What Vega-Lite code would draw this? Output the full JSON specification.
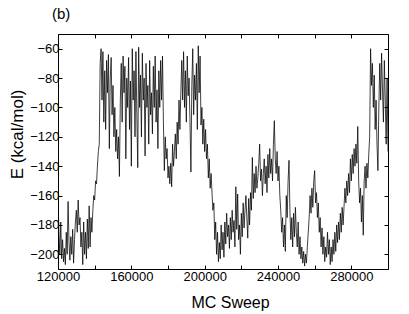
{
  "$schema": "https://vega.github.io/schema/vega-lite/v6.json",
  "width": 330,
  "height": 235,
  "autosize": "none",
  "padding": {"left": 58, "top": 34, "right": 21, "bottom": 45},
  "background": "white",
  "title": {"text": "(b)", "anchor": "start", "frame": "group", "font": "Liberation Sans", "fontSize": 15, "fontWeight": "normal", "color": "black", "dx": -6, "offset": 12},
  "config": {"view": {"stroke": null}, "axis": {"grid": false, "domainColor": "black", "tickColor": "black", "labelColor": "black", "titleColor": "black", "labelFont": "Liberation Sans", "titleFont": "Liberation Sans", "labelFontSize": 13, "titleFontSize": 16, "titleFontWeight": "normal", "tickSize": -4, "domainWidth": 1, "tickWidth": 1}},
  "data": {"values": [
    {"s":120000,"e":-160},{"s":120500,"e":-185},{"s":121000,"e":-200},{"s":121500,"e":-178},{"s":122000,"e":-203},{"s":122500,"e":-190},{"s":123000,"e":-205},{"s":123500,"e":-196},{"s":124000,"e":-207},{"s":124500,"e":-185},
    {"s":125000,"e":-200},{"s":125500,"e":-164},{"s":126000,"e":-192},{"s":126500,"e":-204},{"s":127000,"e":-188},{"s":127500,"e":-200},{"s":128000,"e":-183},{"s":128500,"e":-206},{"s":129000,"e":-190},{"s":129500,"e":-178},
    {"s":130000,"e":-170},{"s":130500,"e":-185},{"s":131000,"e":-163},{"s":131500,"e":-180},{"s":132000,"e":-175},{"s":132500,"e":-195},{"s":133000,"e":-185},{"s":133500,"e":-207},{"s":134000,"e":-178},{"s":134500,"e":-200},
    {"s":135000,"e":-185},{"s":135500,"e":-203},{"s":136000,"e":-176},{"s":136500,"e":-196},{"s":137000,"e":-167},{"s":137500,"e":-195},{"s":138000,"e":-175},{"s":138500,"e":-185},{"s":139000,"e":-170},{"s":139500,"e":-160},
    {"s":140000,"e":-163},{"s":140500,"e":-150},{"s":141000,"e":-152},{"s":141500,"e":-140},{"s":142000,"e":-130},{"s":142500,"e":-125},{"s":143000,"e":-70},{"s":143500,"e":-60},{"s":144000,"e":-95},{"s":144500,"e":-62},
    {"s":145000,"e":-110},{"s":145500,"e":-75},{"s":146000,"e":-115},{"s":146500,"e":-68},{"s":147000,"e":-90},{"s":147500,"e":-64},{"s":148000,"e":-128},{"s":148500,"e":-80},{"s":149000,"e":-66},{"s":149500,"e":-105},
    {"s":150000,"e":-85},{"s":150500,"e":-120},{"s":151000,"e":-100},{"s":151500,"e":-130},{"s":152000,"e":-115},{"s":152500,"e":-135},{"s":153000,"e":-120},{"s":153500,"e":-147},{"s":154000,"e":-95},{"s":154500,"e":-70},
    {"s":155000,"e":-110},{"s":155500,"e":-65},{"s":156000,"e":-90},{"s":156500,"e":-72},{"s":157000,"e":-135},{"s":157500,"e":-80},{"s":158000,"e":-100},{"s":158500,"e":-66},{"s":159000,"e":-115},{"s":159500,"e":-82},
    {"s":160000,"e":-140},{"s":160500,"e":-60},{"s":161000,"e":-95},{"s":161500,"e":-75},{"s":162000,"e":-120},{"s":162500,"e":-62},{"s":163000,"e":-105},{"s":163500,"e":-141},{"s":164000,"e":-59},{"s":164500,"e":-100},
    {"s":165000,"e":-78},{"s":165500,"e":-120},{"s":166000,"e":-63},{"s":166500,"e":-95},{"s":167000,"e":-80},{"s":167500,"e":-133},{"s":168000,"e":-70},{"s":168500,"e":-100},{"s":169000,"e":-85},{"s":169500,"e":-125},
    {"s":170000,"e":-68},{"s":170500,"e":-105},{"s":171000,"e":-90},{"s":171500,"e":-118},{"s":172000,"e":-72},{"s":172500,"e":-100},{"s":173000,"e":-65},{"s":173500,"e":-110},{"s":174000,"e":-88},{"s":174500,"e":-128},
    {"s":175000,"e":-75},{"s":175500,"e":-100},{"s":176000,"e":-68},{"s":176500,"e":-95},{"s":177000,"e":-65},{"s":177500,"e":-110},{"s":178000,"e":-143},{"s":178500,"e":-120},{"s":179000,"e":-135},{"s":179500,"e":-128},
    {"s":180000,"e":-148},{"s":180500,"e":-140},{"s":181000,"e":-152},{"s":181500,"e":-138},{"s":182000,"e":-154},{"s":182500,"e":-125},{"s":183000,"e":-140},{"s":183500,"e":-130},{"s":184000,"e":-118},{"s":184500,"e":-135},
    {"s":185000,"e":-110},{"s":185500,"e":-125},{"s":186000,"e":-95},{"s":186500,"e":-115},{"s":187000,"e":-90},{"s":187500,"e":-68},{"s":188000,"e":-95},{"s":188500,"e":-62},{"s":189000,"e":-100},{"s":189500,"e":-75},
    {"s":190000,"e":-110},{"s":190500,"e":-65},{"s":191000,"e":-92},{"s":191500,"e":-80},{"s":192000,"e":-110},{"s":192500,"e":-144},{"s":193000,"e":-85},{"s":193500,"e":-60},{"s":194000,"e":-105},{"s":194500,"e":-78},
    {"s":195000,"e":-95},{"s":195500,"e":-70},{"s":196000,"e":-115},{"s":196500,"e":-58},{"s":197000,"e":-90},{"s":197500,"e":-65},{"s":198000,"e":-112},{"s":198500,"e":-100},{"s":199000,"e":-125},{"s":199500,"e":-108},
    {"s":200000,"e":-130},{"s":200500,"e":-115},{"s":201000,"e":-135},{"s":201500,"e":-125},{"s":202000,"e":-148},{"s":202500,"e":-135},{"s":203000,"e":-155},{"s":203500,"e":-145},{"s":204000,"e":-158},{"s":204500,"e":-170},
    {"s":205000,"e":-165},{"s":205500,"e":-190},{"s":206000,"e":-178},{"s":206500,"e":-200},{"s":207000,"e":-185},{"s":207500,"e":-205},{"s":208000,"e":-192},{"s":208500,"e":-203},{"s":209000,"e":-180},{"s":209500,"e":-197},
    {"s":210000,"e":-185},{"s":210500,"e":-202},{"s":211000,"e":-178},{"s":211500,"e":-193},{"s":212000,"e":-172},{"s":212500,"e":-188},{"s":213000,"e":-180},{"s":213500,"e":-196},{"s":214000,"e":-175},{"s":214500,"e":-190},
    {"s":215000,"e":-170},{"s":215500,"e":-185},{"s":216000,"e":-177},{"s":216500,"e":-195},{"s":217000,"e":-154},{"s":217500,"e":-183},{"s":218000,"e":-159},{"s":218500,"e":-190},{"s":219000,"e":-180},{"s":219500,"e":-200},
    {"s":220000,"e":-172},{"s":220500,"e":-188},{"s":221000,"e":-165},{"s":221500,"e":-182},{"s":222000,"e":-170},{"s":222500,"e":-160},{"s":223000,"e":-175},{"s":223500,"e":-189},{"s":224000,"e":-162},{"s":224500,"e":-180},
    {"s":225000,"e":-158},{"s":225500,"e":-170},{"s":226000,"e":-134},{"s":226500,"e":-162},{"s":227000,"e":-145},{"s":227500,"e":-158},{"s":228000,"e":-140},{"s":228500,"e":-155},{"s":229000,"e":-148},{"s":229500,"e":-138},
    {"s":230000,"e":-125},{"s":230500,"e":-150},{"s":231000,"e":-142},{"s":231500,"e":-160},{"s":232000,"e":-145},{"s":232500,"e":-135},{"s":233000,"e":-152},{"s":233500,"e":-140},{"s":234000,"e":-158},{"s":234500,"e":-132},
    {"s":235000,"e":-148},{"s":235500,"e":-128},{"s":236000,"e":-145},{"s":236500,"e":-135},{"s":237000,"e":-150},{"s":237500,"e":-125},{"s":238000,"e":-109},{"s":238500,"e":-135},{"s":239000,"e":-145},{"s":239500,"e":-130},
    {"s":240000,"e":-150},{"s":240500,"e":-140},{"s":241000,"e":-160},{"s":241500,"e":-170},{"s":242000,"e":-185},{"s":242500,"e":-175},{"s":243000,"e":-195},{"s":243500,"e":-180},{"s":244000,"e":-198},{"s":244500,"e":-160},
    {"s":245000,"e":-175},{"s":245500,"e":-150},{"s":246000,"e":-136},{"s":246500,"e":-170},{"s":247000,"e":-190},{"s":247500,"e":-175},{"s":248000,"e":-195},{"s":248500,"e":-172},{"s":249000,"e":-188},{"s":249500,"e":-168},
    {"s":250000,"e":-185},{"s":250500,"e":-195},{"s":251000,"e":-178},{"s":251500,"e":-200},{"s":252000,"e":-188},{"s":252500,"e":-203},{"s":253000,"e":-195},{"s":253500,"e":-206},{"s":254000,"e":-198},{"s":254500,"e":-208},
    {"s":255000,"e":-200},{"s":255500,"e":-206},{"s":256000,"e":-195},{"s":256500,"e":-185},{"s":257000,"e":-175},{"s":257500,"e":-160},{"s":258000,"e":-172},{"s":258500,"e":-155},{"s":259000,"e":-168},{"s":259500,"e":-150},
    {"s":260000,"e":-143},{"s":260500,"e":-165},{"s":261000,"e":-158},{"s":261500,"e":-175},{"s":262000,"e":-165},{"s":262500,"e":-185},{"s":263000,"e":-175},{"s":263500,"e":-195},{"s":264000,"e":-182},{"s":264500,"e":-200},
    {"s":265000,"e":-188},{"s":265500,"e":-205},{"s":266000,"e":-195},{"s":266500,"e":-202},{"s":267000,"e":-185},{"s":267500,"e":-200},{"s":268000,"e":-190},{"s":268500,"e":-207},{"s":269000,"e":-195},{"s":269500,"e":-205},
    {"s":270000,"e":-190},{"s":270500,"e":-200},{"s":271000,"e":-185},{"s":271500,"e":-198},{"s":272000,"e":-180},{"s":272500,"e":-192},{"s":273000,"e":-178},{"s":273500,"e":-190},{"s":274000,"e":-172},{"s":274500,"e":-185},
    {"s":275000,"e":-168},{"s":275500,"e":-180},{"s":276000,"e":-168},{"s":276500,"e":-155},{"s":277000,"e":-165},{"s":277500,"e":-150},{"s":278000,"e":-160},{"s":278500,"e":-145},{"s":279000,"e":-158},{"s":279500,"e":-135},
    {"s":280000,"e":-150},{"s":280500,"e":-132},{"s":281000,"e":-145},{"s":281500,"e":-128},{"s":282000,"e":-140},{"s":282500,"e":-125},{"s":283000,"e":-138},{"s":283500,"e":-113},{"s":284000,"e":-150},{"s":284500,"e":-165},
    {"s":285000,"e":-155},{"s":285500,"e":-178},{"s":286000,"e":-160},{"s":286500,"e":-187},{"s":287000,"e":-150},{"s":287500,"e":-140},{"s":288000,"e":-155},{"s":288500,"e":-138},{"s":289000,"e":-148},{"s":289500,"e":-132},
    {"s":290000,"e":-120},{"s":290500,"e":-60},{"s":291000,"e":-85},{"s":291500,"e":-70},{"s":292000,"e":-100},{"s":292500,"e":-78},{"s":293000,"e":-115},{"s":293500,"e":-95},{"s":294000,"e":-125},{"s":294500,"e":-143},
    {"s":295000,"e":-100},{"s":295500,"e":-70},{"s":296000,"e":-95},{"s":296500,"e":-63},{"s":297000,"e":-88},{"s":297500,"e":-110},{"s":298000,"e":-68},{"s":298500,"e":-95},{"s":299000,"e":-125},{"s":299500,"e":-80},
    {"s":300000,"e":-130}
  ]},
  "layer": [
    {
      "mark": {"type": "line", "color": "black", "strokeWidth": 0.75, "clip": true},
      "encoding": {
        "x": {"field": "s", "type": "quantitative", "scale": {"domain": [120000, 300000], "nice": false, "zero": false},
          "axis": {"orient": "bottom", "values": [120000, 140000, 160000, 180000, 200000, 220000, 240000, 260000, 280000, 300000], "format": "d", "labelExpr": "datum.value % 40000 == 0 && datum.value < 300000 ? datum.label : ''", "labelFlush": false, "labelDx": 7, "labelPadding": 5, "title": "MC Sweep", "titleX": 172, "titleY": 33, "titleBaseline": "middle", "titleAnchor": null}},
        "y": {"field": "e", "type": "quantitative", "scale": {"domain": [-210, -50], "nice": false, "zero": false},
          "axis": {"orient": "left", "values": [-60, -80, -100, -120, -140, -160, -180, -200], "format": "d", "labelPadding": 3, "title": "E  (kcal/mol)", "titleFontSize": 17, "titleX": -41, "titleY": 100, "titleBaseline": "middle", "titleAngle": -90, "titleAlign": "center"}}
      }
    },
    {
      "mark": {"type": "line", "opacity": 0},
      "encoding": {
        "x": {"field": "s", "type": "quantitative", "scale": {"domain": [120000, 300000], "nice": false, "zero": false},
          "axis": {"orient": "top", "values": [120000, 140000, 160000, 180000, 200000, 220000, 240000, 260000, 280000, 300000], "labels": false, "title": null}},
        "y": {"field": "e", "type": "quantitative", "scale": {"domain": [-210, -50], "nice": false, "zero": false},
          "axis": {"orient": "right", "values": [-60, -80, -100, -120, -140, -160, -180, -200], "labels": false, "title": null}}
      }
    }
  ],
  "resolve": {"axis": {"x": "independent", "y": "independent"}}
}
